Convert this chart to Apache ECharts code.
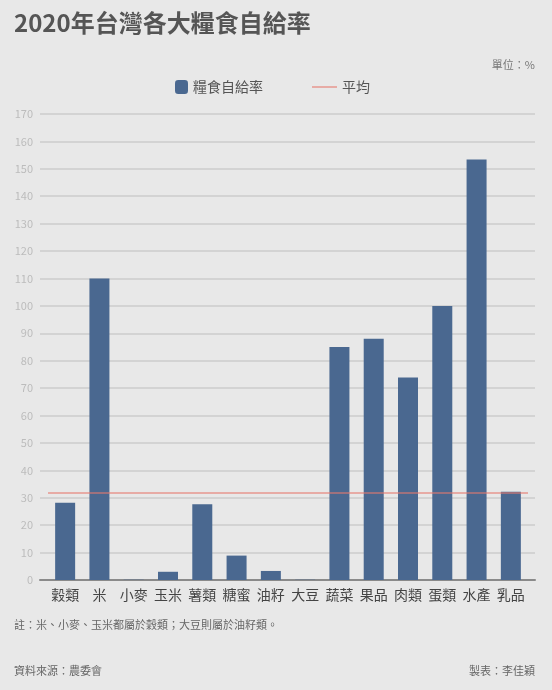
<!DOCTYPE html>
<html>
<head>
<meta charset="utf-8">
<script src="https://cdn.jsdelivr.net/npm/echarts@6/dist/echarts.min.js"></script>
<style>
html,body{margin:0;padding:0;background:#e8e8e8;}
#c{width:552px;height:690px;}
</style>
</head>
<body>
<div id="c"></div>
<script>
const categories = ['穀類','米','小麥','玉米','薯類','糖蜜','油籽','大豆','蔬菜','果品','肉類','蛋類','水產','乳品'];
const selfSufficiency = [28.2, 110, 0.1, 3.0, 27.6, 8.9, 3.3, 0.1, 85, 88, 73.9, 100, 153.4, 32.2];
const averageValue = 31.7;
const yTicks = { min: 0, max: 170, interval: 10 };

const FONT = '"Noto Sans CJK TC", "Noto Sans", sans-serif';
const chart = echarts.init(document.getElementById('c'), null, { renderer: 'canvas' });
const avgColor = 'rgba(230,120,110,0.55)';

chart.setOption({
  backgroundColor: '#e8e8e8',
  textStyle: { fontFamily: FONT },
  animation: false,
  title: [
    { text: '2020年台灣各大糧食自給率', left: 14, top: 11, padding: 0,
      textStyle: { fontSize: 24, fontWeight: 'bold', color: '#555', fontFamily: FONT } },
    { text: '單位：%', right: 17, top: 59, padding: 0,
      textStyle: { fontSize: 11, fontWeight: 'normal', color: '#777', fontFamily: FONT } },
    { text: '註：米、小麥、玉米都屬於穀類；大豆則屬於油籽類。', left: 14, top: 619, padding: 0,
      textStyle: { fontSize: 11, fontWeight: 'normal', color: '#666', fontFamily: FONT } },
    { text: '資料來源：農委會', left: 14, top: 665, padding: 0,
      textStyle: { fontSize: 11, fontWeight: 'normal', color: '#666', fontFamily: FONT } },
    { text: '製表：李佳穎', right: 17, top: 665, padding: 0,
      textStyle: { fontSize: 11, fontWeight: 'normal', color: '#666', fontFamily: FONT } }
  ],
  legend: [
    { data: ['糧食自給率'], left: 175, top: 80, padding: 0, itemWidth: 13, itemHeight: 14,
      textStyle: { fontSize: 14, color: '#555', fontFamily: FONT } },
    { data: [{ name: '平均', icon: 'path://M0,0 L25,0 L25,2 L0,2 Z' }],
      left: 312, top: 80, padding: 0, itemWidth: 25, itemHeight: 14,
      itemStyle: { color: avgColor },
      textStyle: { fontSize: 14, color: '#555', fontFamily: FONT } }
  ],
  grid: [
    { left: 40, right: 17, top: 114, bottom: 110 },
    { left: 48, right: 24, top: 114, bottom: 110 }
  ],
  xAxis: [
    { type: 'category', gridIndex: 0, data: categories,
      axisLine: { show: true, lineStyle: { color: '#8a8a8a', width: 2 } },
      axisTick: { show: false }, axisLabel: { show: false }, splitLine: { show: false } },
    { type: 'category', gridIndex: 1, data: categories,
      axisLine: { show: false }, axisTick: { show: false },
      axisLabel: { color: '#444', fontSize: 14, margin: 8, fontFamily: FONT, interval: 0 } }
  ],
  yAxis: [
    { type: 'value', gridIndex: 0, min: yTicks.min, max: yTicks.max, interval: yTicks.interval,
      axisLine: { show: false }, axisTick: { show: false },
      axisLabel: { color: '#bcbcbc', fontSize: 11, margin: 7, padding: [0, 0, 6, 0], fontFamily: FONT },
      splitLine: { show: true, lineStyle: { color: '#cdcdcd', width: 1.5 } } },
    { type: 'value', gridIndex: 1, min: yTicks.min, max: yTicks.max, interval: yTicks.interval,
      show: false, splitLine: { show: false } }
  ],
  series: [
    { name: '糧食自給率', type: 'bar', xAxisIndex: 1, yAxisIndex: 1,
      data: selfSufficiency, barWidth: 20,
      itemStyle: { color: '#4a6890' } },
    { name: '平均', type: 'line', xAxisIndex: 1, yAxisIndex: 1,
      data: [], symbol: 'none', color: avgColor,
      lineStyle: { color: avgColor, width: 2 },
      markLine: { silent: true, symbol: 'none', label: { show: false },
        lineStyle: { color: avgColor, width: 2, type: 'solid' },
        data: [{ yAxis: averageValue }] },
      z: 5 }
  ]
});
</script>
</body>
</html>
